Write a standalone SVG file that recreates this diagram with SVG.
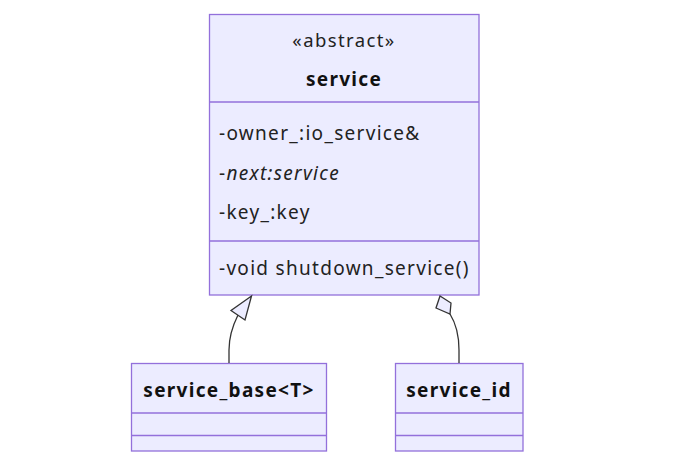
<svg xmlns="http://www.w3.org/2000/svg" width="677" height="463" viewBox="0 0 677 463">
<style>
.box{fill:#ECECFF;stroke:#9370DB;stroke-width:1.3}
.div{stroke:#9370DB;stroke-width:1.3}
text{font-family:"Noto Sans",sans-serif;font-size:19px;fill:#222;letter-spacing:1.3px}
.c{text-anchor:middle}
.b{font-weight:bold;fill:#111}
.edge{fill:none;stroke:#333;stroke-width:1.3}
.head{fill:#ECECFF;stroke:#333;stroke-width:1.3}
</style>
<rect width="677" height="463" fill="#fff"/>
<g id="service">
<rect class="box" x="209.5" y="14.5" width="269.5" height="280.5"/>
<line class="div" x1="209.5" y1="102" x2="479" y2="102"/>
<line class="div" x1="209.5" y1="241" x2="479" y2="241"/>
<text class="c" x="344" y="47" style="font-size:18.5px;letter-spacing:1.4px">«abstract»</text>
<text class="c b" x="344" y="86">service</text>
<text x="219" y="140">-owner_:io_service&amp;</text>
<text x="219" y="180">-<tspan font-style="italic">next:service</tspan></text>
<text x="219" y="219">-key_:key</text>
<text x="219" y="275">-void shutdown_service()</text>
</g>
<g id="service_base">
<rect class="box" x="131.5" y="363.5" width="195" height="87.5"/>
<line class="div" x1="131.5" y1="413" x2="326.5" y2="413"/>
<line class="div" x1="131.5" y1="435.5" x2="326.5" y2="435.5"/>
<text class="c b" x="229" y="397">service_base&lt;T&gt;</text>
</g>
<g id="service_id">
<rect class="box" x="395.5" y="363.5" width="127.5" height="87.5"/>
<line class="div" x1="395.5" y1="413" x2="523" y2="413"/>
<line class="div" x1="395.5" y1="435.5" x2="523" y2="435.5"/>
<text class="c b" x="459" y="397">service_id</text>
</g>
<g id="connectors">
<path class="edge" d="M229,363 L229,350 C229,335 233,325 238,315"/>
<polygon class="head" points="251.5,296 231,310.5 245,320"/>
<path class="edge" d="M459,363 L459,350 C459,335 455,322 450,314"/>
<polygon class="head" points="440,296 436,308 450,314 451,303"/>
</g>
</svg>
